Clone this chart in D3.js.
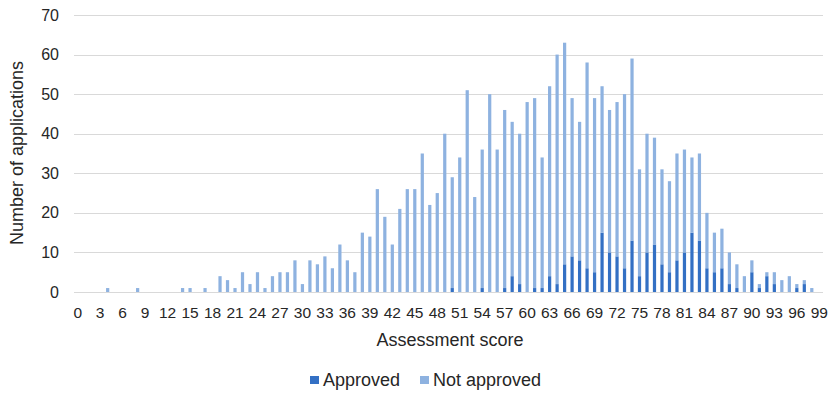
<!DOCTYPE html>
<html>
<head>
<meta charset="utf-8">
<script src="https://cdn.jsdelivr.net/npm/d3@7"></script>
<style>
  html, body { margin: 0; padding: 0; background: #fff; }
  svg { display: block; font-family: "Liberation Sans", Arial, sans-serif; }
</style>
</head>
<body>
<svg id="chart" width="839" height="397"></svg>
<script>
const categories = d3.range(0, 100);
const totals = [0,0,0,0,1,0,0,0,1,0,
  0,0,0,0,1,1,0,1,0,4,
  3,1,5,2,5,1,4,5,5,8,
  2,8,7,9,6,12,8,5,15,14,
  26,19,12,21,26,26,35,22,25,40,
  29,34,51,24,36,50,36,46,43,40,
  48,49,34,52,60,63,49,43,58,49,
  52,46,48,50,59,31,40,39,31,28,
  35,36,34,35,20,15,16,10,7,4,
  8,2,5,5,3,4,2,3,1,0];
const approved = [0,0,0,0,0,0,0,0,0,0,
  0,0,0,0,0,0,0,0,0,0,
  0,0,0,0,0,0,0,0,0,0,
  0,0,0,0,0,0,0,0,0,0,
  0,0,0,0,0,0,0,0,0,0,
  1,0,0,0,1,0,0,1,4,2,
  0,1,1,4,2,7,9,8,6,5,
  15,10,9,6,13,4,10,12,7,5,
  8,10,15,13,6,5,6,2,1,0,
  5,1,4,2,0,0,1,2,0,0];
const notApproved = totals.map((t, i) => t - approved[i]);
const xTickLabels = d3.range(0, 100, 3);
const yTicks = [0,10,20,30,40,50,60,70];
const seriesNames = ["Approved", "Not approved"];
const colors = ["#3370C4", "#8EB2E0"];

(function () {
const svg = d3.select("#chart");
const mLeft = 74, mRight = 823, mTop = 15, mBottom = 292;
const textColor = "#262626";

const x = d3.scaleBand().domain(categories).range([mLeft, mRight]).paddingInner(0.57).paddingOuter(0.28);
const y = d3.scaleLinear().domain([0, 70]).range([mBottom, mTop]);

// gridlines
svg.append("g").selectAll("line").data(yTicks).join("line")
  .attr("x1", mLeft).attr("x2", mRight)
  .attr("y1", d => Math.round(y(d)) + 0.5).attr("y2", d => Math.round(y(d)) + 0.5)
  .attr("stroke", "#d9d9d9").attr("stroke-width", 1);

// y tick labels
svg.append("g").selectAll("text").data(yTicks).join("text")
  .attr("x", 59).attr("y", d => y(d)).attr("dy", "0.35em")
  .attr("text-anchor", "end").attr("font-size", 16).attr("fill", textColor)
  .text(d => d);

// stacked bars
const rows = categories.map((c, i) => ({ cat: c, Approved: approved[i], "Not approved": notApproved[i] }));
const stack = d3.stack().keys(seriesNames)(rows);
svg.append("g").selectAll("g").data(stack).join("g")
  .attr("fill", (d, i) => colors[i])
  .selectAll("rect").data(d => d).join("rect")
  .attr("x", d => x(d.data.cat))
  .attr("width", x.bandwidth())
  .attr("y", d => y(d[1]))
  .attr("height", d => Math.max(0, y(d[0]) - y(d[1])));

// x tick labels
svg.append("g").selectAll("text").data(xTickLabels).join("text")
  .attr("x", d => x(d) + x.bandwidth() / 2).attr("y", 318)
  .attr("text-anchor", "middle").attr("font-size", 15.5).attr("fill", textColor)
  .text(d => d);

// axis titles
svg.append("text").attr("x", 450).attr("y", 346).attr("text-anchor", "middle")
  .attr("font-size", 18).attr("fill", textColor).text("Assessment score");
svg.append("text").attr("transform", "translate(23,153) rotate(-90)").attr("text-anchor", "middle")
  .attr("font-size", 18).attr("fill", textColor).text("Number of applications");

// legend
const legendPos = [{ sx: 310, tx: 323 }, { sx: 420, tx: 433 }];
const lg = svg.append("g").selectAll("g").data(seriesNames).join("g");
lg.append("rect").attr("x", (d, i) => legendPos[i].sx).attr("y", 376).attr("width", 9).attr("height", 8)
  .attr("fill", (d, i) => colors[i]);
lg.append("text").attr("x", (d, i) => legendPos[i].tx).attr("y", 386)
  .attr("font-size", 18).attr("fill", textColor).text(d => d);
})();
</script>
</body>
</html>
